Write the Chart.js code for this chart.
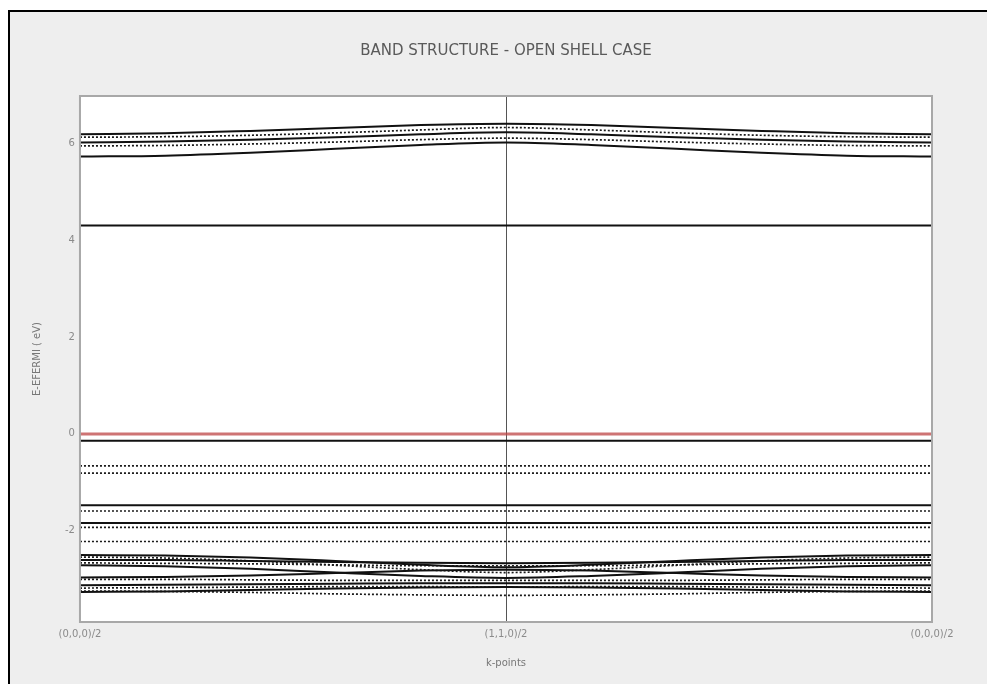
<!DOCTYPE html>
<html>
<head>
<meta charset="utf-8">
<script src="https://cdn.jsdelivr.net/npm/chart.js@4/dist/chart.umd.min.js"></script>
<style>
  html, body { margin: 0; padding: 0; background: #ffffff; }
  #sheet {
    position: absolute; left: 8px; top: 10px; width: 1000px; height: 700px;
    border-left: 2px solid #000; border-top: 2px solid #000; background: #eeeeee;
  }
  #wrap { position: absolute; left: 0; top: 0; width: 987px; height: 684px; }
</style>
</head>
<body>
<div id="sheet"></div>
<div id="wrap"><canvas id="c" width="987" height="684"></canvas></div>
<script>
// k-path (0,0,0) -> (1,1,0) -> (0,0,0), sampled at 11 points
const kPoints = [0, 0.2, 0.4, 0.6, 0.8, 1.0, 1.2, 1.4, 1.6, 1.8, 2.0];
const kTickValues = [0, 1, 2];
const kTickLabels = ['(0,0,0)/2', '(1,1,0)/2', '(0,0,0)/2'];
const energyTicks = [-2, 0, 2, 4, 6];
const energyMin = -3.88;
const energyMax = 6.97;
const chartTitle = 'BAND STRUCTURE - OPEN SHELL CASE';

// Fermi level
const fermi = [0, 0, 0, 0, 0, 0, 0, 0, 0, 0, 0];

// Spin-up (alpha) bands, eV relative to E-Fermi
const up1 = [6.18, 6.20, 6.25, 6.31, 6.37, 6.40, 6.37, 6.31, 6.25, 6.20, 6.18];
const up2 = [6.01, 6.03, 6.07, 6.12, 6.18, 6.22, 6.18, 6.12, 6.07, 6.03, 6.01];
const up3 = [5.72, 5.74, 5.80, 5.88, 5.96, 6.01, 5.96, 5.88, 5.80, 5.74, 5.72];
const up4 = [4.30, 4.30, 4.30, 4.30, 4.30, 4.30, 4.30, 4.30, 4.30, 4.30, 4.30];
const up5 = [-0.14, -0.14, -0.14, -0.14, -0.14, -0.14, -0.14, -0.14, -0.14, -0.14, -0.14];
const up6 = [-1.47, -1.47, -1.47, -1.47, -1.47, -1.47, -1.47, -1.47, -1.47, -1.47, -1.47];
const up7 = [-1.84, -1.84, -1.84, -1.84, -1.84, -1.84, -1.84, -1.84, -1.84, -1.84, -1.84];
const up8 = [-2.50, -2.51, -2.55, -2.62, -2.70, -2.75, -2.70, -2.62, -2.55, -2.51, -2.50];
const up9 = [-2.60, -2.60, -2.62, -2.64, -2.66, -2.67, -2.66, -2.64, -2.62, -2.60, -2.60];
const up10 = [-2.71, -2.73, -2.78, -2.86, -2.93, -2.97, -2.93, -2.86, -2.78, -2.73, -2.71];
const up11 = [-2.96, -2.95, -2.92, -2.87, -2.82, -2.80, -2.82, -2.87, -2.92, -2.95, -2.96];
const up12 = [-3.12, -3.11, -3.10, -3.09, -3.08, -3.08, -3.08, -3.09, -3.10, -3.11, -3.12];
const up13 = [-3.26, -3.25, -3.22, -3.19, -3.17, -3.16, -3.17, -3.19, -3.22, -3.25, -3.26];

// Spin-down (beta) bands, eV relative to E-Fermi
const dn1 = [6.12, 6.13, 6.16, 6.21, 6.27, 6.32, 6.27, 6.21, 6.16, 6.13, 6.12];
const dn2 = [5.94, 5.95, 5.98, 6.02, 6.07, 6.10, 6.07, 6.02, 5.98, 5.95, 5.94];
const dn3 = [-0.66, -0.66, -0.66, -0.66, -0.66, -0.66, -0.66, -0.66, -0.66, -0.66, -0.66];
const dn4 = [-0.81, -0.81, -0.81, -0.81, -0.81, -0.81, -0.81, -0.81, -0.81, -0.81, -0.81];
const dn5 = [-1.59, -1.59, -1.59, -1.59, -1.59, -1.59, -1.59, -1.59, -1.59, -1.59, -1.59];
const dn6 = [-1.93, -1.93, -1.93, -1.93, -1.93, -1.93, -1.93, -1.93, -1.93, -1.93, -1.93];
const dn7 = [-2.22, -2.22, -2.22, -2.22, -2.22, -2.22, -2.22, -2.22, -2.22, -2.22, -2.22];
const dn8 = [-2.54, -2.56, -2.62, -2.71, -2.80, -2.86, -2.80, -2.71, -2.62, -2.56, -2.54];
const dn9 = [-2.66, -2.67, -2.68, -2.70, -2.72, -2.72, -2.72, -2.70, -2.68, -2.67, -2.66];
const dn10 = [-3.00, -3.00, -3.01, -3.02, -3.02, -3.02, -3.02, -3.02, -3.01, -3.00, -3.00];
const dn11 = [-3.18, -3.17, -3.16, -3.15, -3.15, -3.16, -3.15, -3.15, -3.16, -3.17, -3.18];
const dn12 = [-3.24, -3.25, -3.27, -3.30, -3.32, -3.33, -3.32, -3.30, -3.27, -3.25, -3.24];

const spinUp = [up1, up2, up3, up4, up5, up6, up7, up8, up9, up10, up11, up12, up13];
const spinDown = [dn1, dn2, dn3, dn4, dn5, dn6, dn7, dn8, dn9, dn10, dn11, dn12];

const toPoints = (vals) => vals.map((e, i) => ({ x: kPoints[i], y: e }));

const datasets = [];
spinUp.forEach((band, i) => datasets.push({
  label: 'alpha ' + (i + 1), data: toPoints(band),
  borderColor: '#111111', borderWidth: 2, pointRadius: 0,
  cubicInterpolationMode: 'monotone', fill: false
}));
spinDown.forEach((band, i) => datasets.push({
  label: 'beta ' + (i + 1), data: toPoints(band),
  borderColor: '#1a1a1a', borderWidth: 1.7, borderDash: [2, 2], pointRadius: 0,
  cubicInterpolationMode: 'monotone', fill: false
}));
datasets.push({
  label: 'E-Fermi', data: toPoints(fermi),
  borderColor: 'rgba(190, 70, 70, 0.75)', borderWidth: 3, pointRadius: 0, fill: false
});

// white plotting field, the (1,1,0)/2 divider, a grey frame and the heading
const plotFrame = {
  id: 'plotFrame',
  beforeDatasetsDraw(chart) {
    const a = chart.chartArea, ctx = chart.ctx;
    ctx.save();
    ctx.fillStyle = '#ffffff';
    ctx.fillRect(a.left, a.top, a.right - a.left, a.bottom - a.top);
    const xm = chart.scales.x.getPixelForValue(kTickValues[1]);
    ctx.strokeStyle = '#555555';
    ctx.lineWidth = 1;
    ctx.beginPath();
    ctx.moveTo(Math.round(xm) + 0.5, a.top);
    ctx.lineTo(Math.round(xm) + 0.5, a.bottom);
    ctx.stroke();
    ctx.restore();
  },
  afterDraw(chart) {
    const a = chart.chartArea, ctx = chart.ctx;
    ctx.save();
    ctx.strokeStyle = '#a8a8a8';
    ctx.lineWidth = 2;
    ctx.strokeRect(a.left, a.top, a.right - a.left, a.bottom - a.top);
    ctx.fillStyle = '#5a5a5a';
    ctx.font = '15px "DejaVu Sans"';
    ctx.textAlign = 'center';
    ctx.textBaseline = 'middle';
    ctx.fillText(chartTitle, (a.left + a.right) / 2, 51);
    ctx.restore();
  }
};

new Chart(document.getElementById('c'), {
  type: 'line',
  data: { datasets },
  plugins: [plotFrame],
  options: {
    responsive: false,
    animation: false,
    layout: { padding: { top: 96, left: 31, right: 55, bottom: 15 } },
    plugins: {
      legend: { display: false },
      tooltip: { enabled: false },
      title: { display: false }
    },
    scales: {
      x: {
        type: 'linear', min: 0, max: 2,
        afterBuildTicks: (axis) => { axis.ticks = kTickValues.map(v => ({ value: v })); },
        ticks: {
          color: '#8a8a8a', font: { family: 'DejaVu Sans', size: 10 }, padding: 6,
          maxRotation: 0, autoSkip: false,
          callback: (v, i) => kTickLabels[i]
        },
        grid: { display: false, drawTicks: false },
        border: { display: false },
        title: {
          display: true, text: 'k-points', color: '#777777',
          font: { family: 'DejaVu Sans', size: 10 }, padding: { top: 11, bottom: 0 }
        }
      },
      y: {
        type: 'linear', min: energyMin, max: energyMax,
        afterBuildTicks: (axis) => { axis.ticks = energyTicks.map(v => ({ value: v })); },
        ticks: { color: '#8a8a8a', font: { family: 'DejaVu Sans', size: 10 }, padding: 5 },
        grid: { display: false, drawTicks: false },
        border: { display: false },
        title: {
          display: true, text: 'E-EFERMI ( eV)', color: '#777777',
          font: { family: 'DejaVu Sans', size: 10 }, padding: { top: 0, bottom: 17 }
        }
      }
    }
  }
});
</script>
</body>
</html>
